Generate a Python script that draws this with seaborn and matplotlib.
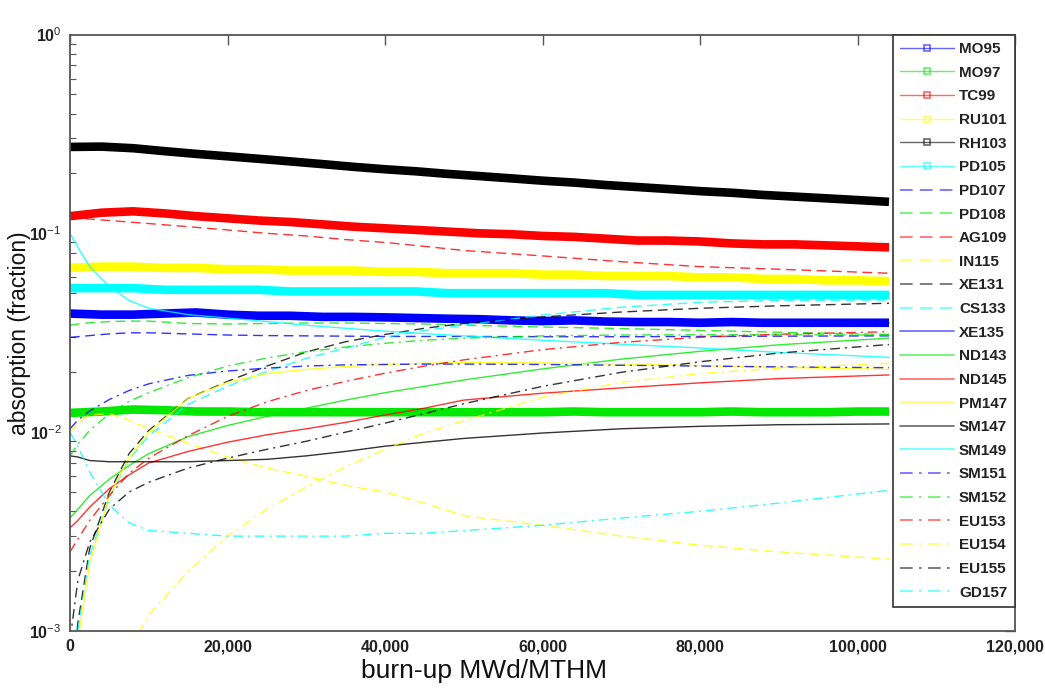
import numpy as np
import pandas as pd
import matplotlib
matplotlib.use("Agg")
import matplotlib.pyplot as plt
from matplotlib.lines import Line2D
import matplotlib.ticker as mticker
import seaborn as sns

# ---------------- data ----------------
BURNUP = [0, 1000, 2500, 5000, 7500, 10000, 15000, 20000, 25000, 30000, 35000,
          40000, 45000, 50000, 60000, 70000, 80000, 90000, 104000]
BURNUP_THICK = [0, 4000, 8000, 12000, 16000, 20000, 24000, 28000, 32000, 36000,
                40000, 44000, 48000, 52000, 56000, 60000, 64000, 68000, 72000,
                76000, 80000, 84000, 88000, 92000, 96000, 100000, 104000]

# thick (marker) series on BURNUP_THICK
MO95 = [0.0395, 0.039, 0.039, 0.0395, 0.040, 0.039, 0.0385, 0.0385, 0.038, 0.038,
        0.0378, 0.0375, 0.0372, 0.037, 0.0365, 0.0362, 0.0365, 0.036, 0.0358,
        0.0358, 0.0355, 0.0358, 0.0355, 0.0355, 0.0355, 0.0355, 0.0355]
MO97 = [0.0125, 0.0127, 0.0130, 0.0129, 0.0127, 0.0127, 0.0126, 0.0126, 0.0126,
        0.0126, 0.0126, 0.0126, 0.0126, 0.0126, 0.0126, 0.0126, 0.0127, 0.0126,
        0.0126, 0.0126, 0.0126, 0.0127, 0.0126, 0.0126, 0.0126, 0.0127, 0.0127]
TC99 = [0.122, 0.127, 0.129, 0.126, 0.122, 0.119, 0.116, 0.114, 0.111, 0.108,
        0.106, 0.104, 0.102, 0.100, 0.099, 0.097, 0.096, 0.094, 0.092, 0.092,
        0.091, 0.089, 0.088, 0.088, 0.087, 0.086, 0.085]
RU101 = [0.067, 0.068, 0.068, 0.067, 0.067, 0.066, 0.066, 0.065, 0.065, 0.065,
         0.064, 0.064, 0.063, 0.063, 0.063, 0.062, 0.062, 0.061, 0.061, 0.061,
         0.060, 0.060, 0.059, 0.059, 0.058, 0.058, 0.0575]
RH103 = [0.272, 0.273, 0.268, 0.259, 0.251, 0.244, 0.237, 0.230, 0.223, 0.216,
         0.210, 0.205, 0.199, 0.194, 0.189, 0.184, 0.180, 0.175, 0.171, 0.167,
         0.163, 0.160, 0.156, 0.153, 0.150, 0.147, 0.144]
PD105 = [0.053, 0.053, 0.053, 0.052, 0.052, 0.052, 0.052, 0.051, 0.051, 0.051,
         0.051, 0.051, 0.050, 0.050, 0.050, 0.050, 0.050, 0.050, 0.049, 0.049,
         0.049, 0.049, 0.049, 0.049, 0.049, 0.049, 0.049]

# thin series on BURNUP
PD107 = [0.0300, 0.0302, 0.0306, 0.0312, 0.0316, 0.0316, 0.0312, 0.0308, 0.0306, 0.0305,
         0.0304, 0.0303, 0.0303, 0.0303, 0.0302, 0.0302, 0.0303, 0.0304, 0.0305]
PD108 = [0.0345, 0.0350, 0.0355, 0.0360, 0.0362, 0.0362, 0.0352, 0.0350, 0.0352, 0.0354,
         0.0354, 0.0352, 0.0350, 0.0345, 0.0338, 0.0332, 0.0325, 0.0318, 0.0310]
AG109 = [0.120, 0.119, 0.118, 0.116, 0.114, 0.112, 0.108, 0.104, 0.100, 0.097,
         0.093, 0.090, 0.086, 0.082, 0.077, 0.072, 0.068, 0.066, 0.063]
IN115 = [0.0100, 0.0112, 0.0122, 0.0124, 0.0115, 0.0104, 0.0088, 0.0075, 0.0066, 0.0060,
         0.0054, 0.0050, 0.0044, 0.0038, 0.0034, 0.0030, 0.0027, 0.0025, 0.0023]
XE131 = [0.0004, 0.0011, 0.0026, 0.0050, 0.0078, 0.0102, 0.0148, 0.0180, 0.0215, 0.0253,
         0.0285, 0.0310, 0.0333, 0.0352, 0.0380, 0.0402, 0.0420, 0.0432, 0.0445]
CS133 = [0.0003, 0.0010, 0.0024, 0.0047, 0.0073, 0.0096, 0.0138, 0.0170, 0.0202, 0.0235,
         0.0265, 0.0300, 0.0325, 0.0345, 0.0388, 0.0425, 0.0450, 0.0460, 0.0462]
XE135 = [0.0390, 0.0390, 0.0390, 0.0390, 0.0390, 0.0392, 0.0395, 0.0388, 0.0384, 0.0381,
         0.0379, 0.0377, 0.0374, 0.0371, 0.0364, 0.0360, 0.0357, 0.0356, 0.0355]
ND143 = [0.0037, 0.0041, 0.0048, 0.0058, 0.0068, 0.0078, 0.0095, 0.0108, 0.0120, 0.0132,
         0.0145, 0.0158, 0.0170, 0.0183, 0.0208, 0.0233, 0.0255, 0.0275, 0.0297]
ND145 = [0.0033, 0.0036, 0.0042, 0.0052, 0.0061, 0.0070, 0.0080, 0.0089, 0.0097, 0.0104,
         0.0112, 0.0122, 0.0132, 0.0145, 0.0157, 0.0167, 0.0177, 0.0186, 0.0194]
PM147 = [0.0003, 0.0009, 0.0022, 0.0048, 0.0074, 0.0100, 0.0148, 0.0178, 0.0197, 0.0207,
         0.0214, 0.0219, 0.0222, 0.0224, 0.0223, 0.0220, 0.0216, 0.0212, 0.0207]
SM147 = [0.0076, 0.0075, 0.0072, 0.0071, 0.0071, 0.0071, 0.0071, 0.0072, 0.0073, 0.0076,
         0.0080, 0.0085, 0.0089, 0.0093, 0.0099, 0.0104, 0.0107, 0.0109, 0.0110]
SM149 = [0.100, 0.085, 0.068, 0.054, 0.046, 0.042, 0.039, 0.0375, 0.036, 0.0345,
         0.0333, 0.0322, 0.0313, 0.0305, 0.0290, 0.0277, 0.0265, 0.0252, 0.0238]
SM151 = [0.0104, 0.0115, 0.0128, 0.0146, 0.0162, 0.0175, 0.0193, 0.0203, 0.0210, 0.0215,
         0.0218, 0.0219, 0.0220, 0.0220, 0.0219, 0.0217, 0.0215, 0.0213, 0.0211]
SM152 = [0.0076, 0.0087, 0.0102, 0.0124, 0.0143, 0.0158, 0.0188, 0.0215, 0.0236, 0.0254,
         0.0268, 0.0280, 0.0290, 0.0297, 0.0305, 0.0308, 0.0309, 0.0309, 0.0308]
EU153 = [0.0025, 0.0029, 0.0036, 0.0048, 0.0062, 0.0074, 0.0096, 0.0120, 0.0142, 0.0162,
         0.0180, 0.0198, 0.0215, 0.0231, 0.0260, 0.0283, 0.0300, 0.0311, 0.0320]
EU154 = [0.0002, 0.00022, 0.0003, 0.0005, 0.0008, 0.0012, 0.0020, 0.0030, 0.0041, 0.0053,
         0.0067, 0.0082, 0.0099, 0.0114, 0.0150, 0.0178, 0.0197, 0.0210, 0.0222]
EU155 = [0.0009, 0.0018, 0.0028, 0.0041, 0.0050, 0.0056, 0.0066, 0.0074, 0.0082, 0.0090,
         0.0100, 0.0111, 0.0124, 0.0139, 0.0170, 0.0200, 0.0226, 0.0250, 0.0276]
GD157 = [0.0100, 0.0085, 0.0063, 0.0043, 0.0035, 0.0032, 0.0031, 0.0030, 0.0030, 0.0030,
         0.0030, 0.0031, 0.0031, 0.0032, 0.0034, 0.0037, 0.0040, 0.0044, 0.0051]

NUCLIDES = ["MO95", "MO97", "TC99", "RU101", "RH103", "PD105",
            "PD107", "PD108", "AG109", "IN115", "XE131", "CS133",
            "XE135", "ND143", "ND145", "PM147", "SM147", "SM149",
            "SM151", "SM152", "EU153", "EU154", "EU155", "GD157"]
SERIES = [MO95, MO97, TC99, RU101, RH103, PD105,
          PD107, PD108, AG109, IN115, XE131, CS133,
          XE135, ND143, ND145, PM147, SM147, SM149,
          SM151, SM152, EU153, EU154, EU155, GD157]

X_TICKS = [0, 20000, 40000, 60000, 80000, 100000, 120000]
Y_TICKS = [1e-3, 1e-2, 1e-1, 1.0]
Y_TICK_LABELS = [r"$\mathbf{10}^{-3}$", r"$\mathbf{10}^{-2}$",
                 r"$\mathbf{10}^{-1}$", r"$\mathbf{10}^{0}$"]

# ---------------- style ----------------
sns.set_style("white")
plt.rcParams["font.family"] = ["Liberation Sans", "DejaVu Sans"]
plt.rcParams["mathtext.fontset"] = "custom"
plt.rcParams["mathtext.rm"] = "Liberation Sans"
plt.rcParams["mathtext.bf"] = "Liberation Sans:bold"
plt.rcParams["mathtext.it"] = "Liberation Sans:italic"

COLORS = ["#0000ff", "#00e800", "#ff0000", "#ffff00", "#000000", "#00ffff"]
GROUP_STYLES = ["thick", (0, (7, 4)), "-", (0, (7, 3.5, 1.5, 3.5))]

fig = plt.figure(figsize=(10.45, 6.9), dpi=100)
ax = fig.add_axes([70 / 1045, 59 / 690, 945 / 1045, 596.5 / 690])

handles = []
for i, (name, vals) in enumerate(zip(NUCLIDES, SERIES)):
    col = COLORS[i % 6]
    style = GROUP_STYLES[i // 6]
    if style == "thick":
        df = pd.DataFrame({"burnup": BURNUP_THICK, "val": vals})
        sns.lineplot(data=df, x="burnup", y="val", ax=ax, color=col, lw=6.2,
                     solid_capstyle="butt", errorbar=None, sort=False, legend=False)
        handles.append(Line2D([], [], color=col, lw=1.0, alpha=0.6, marker="s",
                              markersize=4, markerfacecolor="none",
                              markeredgecolor=col, markeredgewidth=1.2))
    else:
        df = pd.DataFrame({"burnup": BURNUP, "val": vals})
        sns.lineplot(data=df, x="burnup", y="val", ax=ax, color=col, lw=1.0,
                     linestyle=style, alpha=0.8, errorbar=None, sort=False,
                     legend=False)
        handles.append(Line2D([], [], color=col, lw=1.3, alpha=0.55, linestyle=style))

ax.set_yscale("log")
ax.set_xlim(0, 120000)
ax.set_ylim(1e-3, 1.0)
ax.set_xticks(X_TICKS)
ax.xaxis.set_major_formatter(mticker.FuncFormatter(lambda v, p: f"{int(v):,}"))
ax.set_yticks(Y_TICKS)
ax.set_yticklabels(Y_TICK_LABELS)
ax.yaxis.set_minor_locator(mticker.LogLocator(base=10, subs=np.arange(2, 10)))
ax.yaxis.set_minor_formatter(mticker.NullFormatter())

spine_col = "#555555"
for s in ax.spines.values():
    s.set_visible(True)
    s.set_color(spine_col)
    s.set_linewidth(1.3)
ax.tick_params(axis="both", which="major", direction="in", length=7, width=1.0,
               color=spine_col, top=True, right=True, labelsize=11.5, pad=6)
ax.tick_params(axis="y", which="minor", direction="in", length=4, width=0.8,
               color=spine_col, left=True, right=True)
for lab in ax.get_xticklabels():
    lab.set_fontweight("bold")
    lab.set_color("#222222")
for lab in ax.get_yticklabels():
    lab.set_color("#222222")
    lab.set_fontsize(11.5)

ax.set_xlabel("burn-up MWd/MTHM", fontsize=19, color="#111111")
ax.xaxis.set_label_coords((484 - 70) / 945, -0.047)
ax.set_ylabel("absorption (fraction)", fontsize=16.5, color="#111111")
ax.yaxis.set_label_coords((31 - 70) / 945, 0.5)

leg = ax.legend(handles, NUCLIDES, loc="upper right", bbox_to_anchor=(1.0, 1.0),
                borderaxespad=0.0, frameon=True, fancybox=False, framealpha=1.0,
                edgecolor="#333333", prop={"weight": "bold", "size": 11},
                handlelength=3.5, handletextpad=0.35, labelspacing=0.63,
                borderpad=0.5, numpoints=1)
leg.get_frame().set_linewidth(1.2)
for t in leg.get_texts():
    t.set_color("#222222")

fig.savefig("out.png", dpi=100)
